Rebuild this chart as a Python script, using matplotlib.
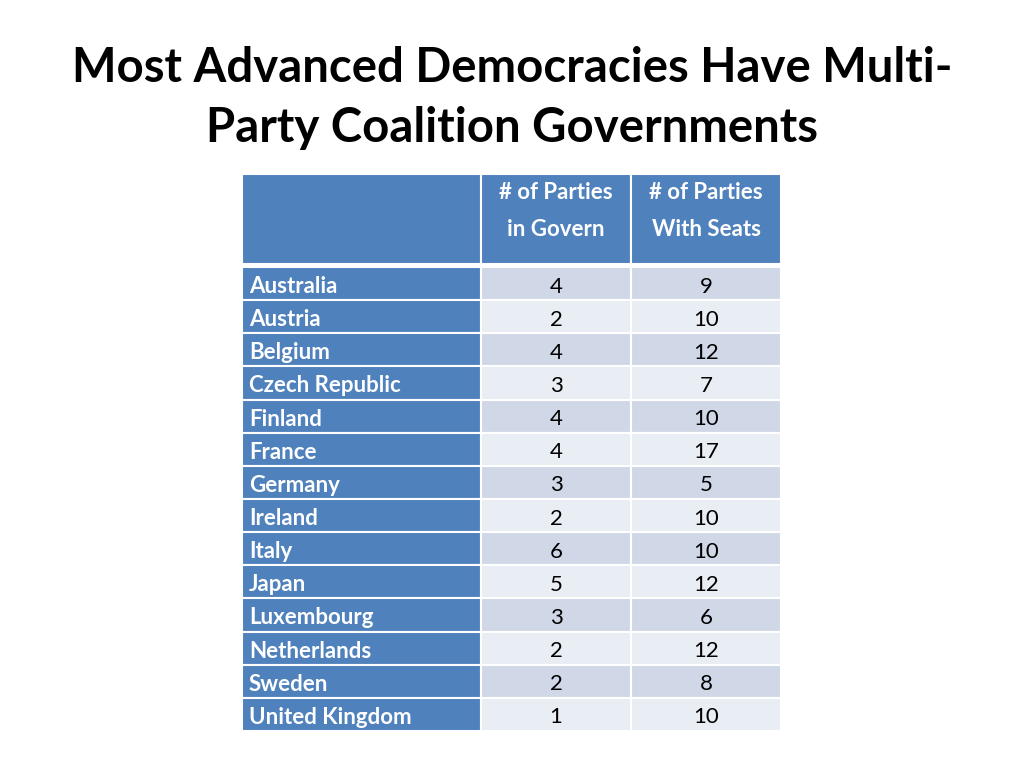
import matplotlib
matplotlib.use("Agg")
import matplotlib.pyplot as plt
from matplotlib.patches import Rectangle

countries = ["Australia", "Austria", "Belgium", "Czech Republic", "Finland", "France",
             "Germany", "Ireland", "Italy", "Japan", "Luxembourg", "Netherlands",
             "Sweden", "United Kingdom"]
parties_govern = [4, 2, 4, 3, 4, 4, 3, 2, 6, 5, 3, 2, 2, 1]
parties_seats = [9, 10, 12, 7, 10, 17, 5, 10, 10, 12, 6, 12, 8, 10]
col_headers = ["# of Parties\nin Govern", "# of Parties\nWith Seats"]
title = "Most Advanced Democracies Have Multi-\nParty Coalition Governments"

FONT = ["Lato", "DejaVu Sans"]
BLUE = "#4F81BD"
ROW_A = "#D0D8E8"
ROW_B = "#E9EDF4"

fig = plt.figure(figsize=(10.24, 7.68), dpi=100)
ax = fig.add_axes([0, 0, 1, 1])
ax.set_xlim(0, 1024)
ax.set_ylim(768, 0)
ax.axis("off")

ax.text(512, 98, title, ha="center", va="center", fontsize=34, fontweight="bold",
        family=FONT, color="#000000", linespacing=1.45)

x_edges = [242, 481, 631, 781]
header_top, header_bot = 174, 264
row_top = 267
row_h = (731 - 267) / len(countries)

# header
for i in range(3):
    ax.add_patch(Rectangle((x_edges[i], header_top), x_edges[i + 1] - x_edges[i],
                           header_bot - header_top, facecolor=BLUE,
                           edgecolor="white", linewidth=1.5))
for j, h in enumerate(col_headers):
    cx = (x_edges[j + 1] + x_edges[j + 2]) / 2
    ax.text(cx, 211, h, ha="center", va="center", fontsize=16, fontweight="bold",
            family=FONT, color="white", linespacing=1.9)

for r, (c, g, s) in enumerate(zip(countries, parties_govern, parties_seats)):
    y = row_top + r * row_h
    fill = ROW_A if r % 2 == 0 else ROW_B
    ax.add_patch(Rectangle((x_edges[0], y), x_edges[1] - x_edges[0], row_h,
                           facecolor=BLUE, edgecolor="white", linewidth=1.5))
    ax.add_patch(Rectangle((x_edges[1], y), x_edges[2] - x_edges[1], row_h,
                           facecolor=fill, edgecolor="white", linewidth=1.5))
    ax.add_patch(Rectangle((x_edges[2], y), x_edges[3] - x_edges[2], row_h,
                           facecolor=fill, edgecolor="white", linewidth=1.5))
    cy = y + row_h / 2 + 3
    ax.text(249, cy, c, ha="left", va="center", fontsize=16, fontweight="bold",
            family=FONT, color="white")
    ax.text((x_edges[1] + x_edges[2]) / 2, cy, str(g), ha="center", va="center",
            fontsize=16, family=FONT, color="black")
    ax.text((x_edges[2] + x_edges[3]) / 2, cy, str(s), ha="center", va="center",
            fontsize=16, family=FONT, color="black")

fig.savefig("out.png", dpi=100, facecolor="white")
